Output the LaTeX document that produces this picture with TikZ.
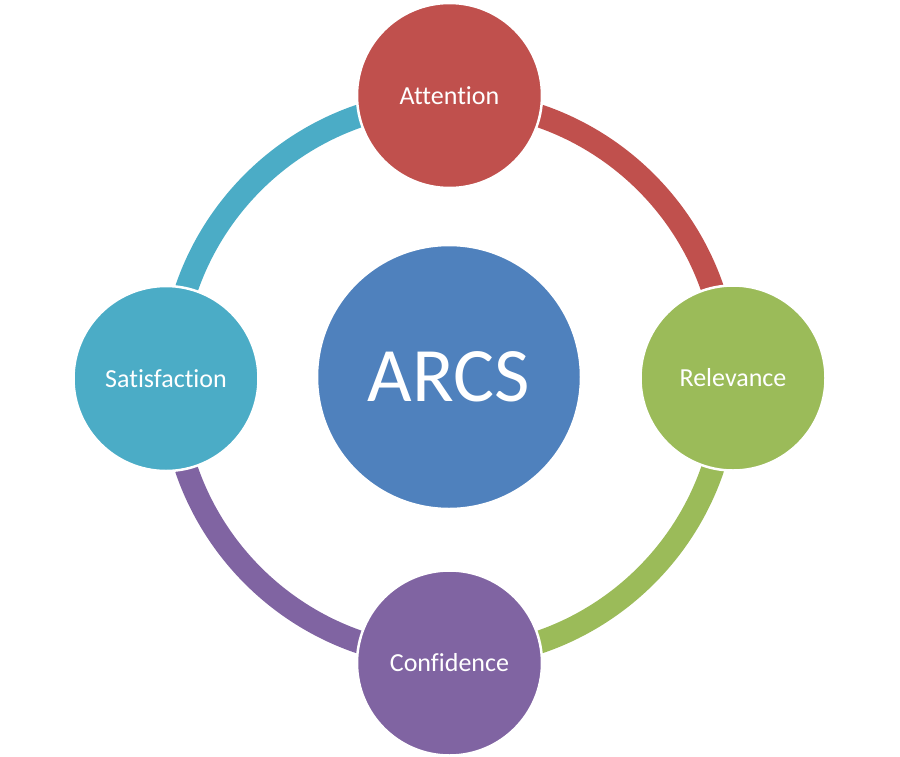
\documentclass[tikz,border=0pt]{standalone}
\usepackage{fontspec}
\setmainfont{Carlito}[Ligatures=NoCommon]
\definecolor{cRed}{HTML}{C0504D}
\definecolor{cGreen}{HTML}{9BBB59}
\definecolor{cPurple}{HTML}{8064A2}
\definecolor{cTeal}{HTML}{4BACC6}
\definecolor{cBlue}{HTML}{4F81BD}
\begin{document}
\begin{tikzpicture}[x=1pt,y=-1pt,
  band/.style={line width=23pt},
  bubble/.style={circle,draw=white,line width=2.5pt,minimum size=185pt,inner sep=0pt,text=white,font=\fontsize{26}{30}\selectfont},
  hub/.style={circle,draw=white,line width=2.5pt,fill=cBlue,minimum size=264pt,inner sep=0pt,text=white,font=\fontsize{77}{90}\selectfont}]
\useasboundingbox (0,0) rectangle (900,756);
\coordinate (O) at (449.5,379);
% ring arcs (y axis flipped: angles measured clockwise visually)
\draw[band,cRed]    (O) ++(-90:278) arc[start angle=-90,end angle=0,radius=278];
\draw[band,cGreen]  (O) ++(0:278) arc[start angle=0,end angle=90,radius=278];
\draw[band,cPurple] (O) ++(90:278) arc[start angle=90,end angle=180,radius=278];
\draw[band,cTeal]   (O) ++(180:278) arc[start angle=180,end angle=270,radius=278];
\node[hub] (arcs) at (449,377) {ARCS};
\node[bubble,fill=cRed]    (att) at (449.5,95.5) {Attention};
\node[bubble,fill=cGreen]  (rel) at (733,378) {Relevance};
\node[bubble,fill=cPurple] (con) at (449.5,663) {Confidence};
\node[bubble,fill=cTeal]   (sat) at (166,378.5) {Satisfaction};
\end{tikzpicture}
\end{document}
